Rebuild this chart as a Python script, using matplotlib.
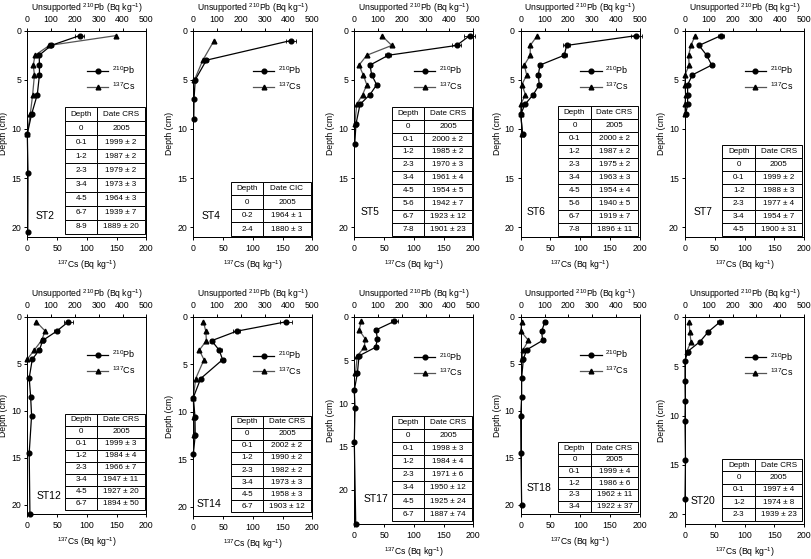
import matplotlib
matplotlib.use("Agg")
import matplotlib.pyplot as plt
from matplotlib.lines import Line2D

plt.rcParams["font.family"] = ["Liberation Sans", "DejaVu Sans"]
plt.rcParams["mathtext.fontset"] = "custom"
plt.rcParams["mathtext.rm"] = "Liberation Sans"
plt.rcParams["mathtext.it"] = "Liberation Sans:italic"
plt.rcParams["mathtext.bf"] = "Liberation Sans:bold"

# ---- data ----
stations = ["ST2", "ST4", "ST5", "ST6", "ST7", "ST12", "ST14", "ST17", "ST18", "ST20"]
depth_max = [21, 21, 21, 21, 21, 21, 21, 24, 21, 21]

# unsupported 210Pb (top axis, Bq/kg)
pb_depth = [
    [0.5, 1.5, 2.5, 3.5, 4.5, 6.5, 8.5, 10.5, 14.5, 20.5],
    [1, 3, 5, 7, 9],
    [0.5, 1.5, 2.5, 3.5, 4.5, 5.5, 6.5, 7.5, 9.5, 11.5],
    [0.5, 1.5, 2.5, 3.5, 4.5, 5.5, 6.5, 7.5, 8.5, 10.5],
    [0.5, 1.5, 2.5, 3.5, 4.5, 5.5, 6.5, 7.5, 8.5],
    [0.5, 1.5, 2.5, 3.5, 4.5, 6.5, 8.5, 10.5, 14.5, 21],
    [0.5, 1.5, 2.5, 3.5, 4.5, 6.5, 8.5, 10.5, 12.5, 14.5],
    [0.5, 1.5, 2.5, 3.5, 4.5, 6.5, 8.5, 10.5, 14.5, 24],
    [0.5, 1.5, 2.5, 3.5, 4.5, 6.5, 8.5, 10.5, 14.5, 20],
    [0.5, 1.5, 2.5, 3.5, 4.5, 6.5, 8.5, 10.5, 14.5, 18.5],
]
pb_values = [
    [220, 100, 50, 51, 51, 42, 18, 0, 3, 2],
    [410, 55, 8, 3, 2],
    [485, 430, 143, 66, 73, 94, 66, 24, 7, 2],
    [486, 193, 183, 81, 74, 78, 53, 18, 0, 8],
    [151, 59, 91, 112, 31, 11, 11, 11, 3],
    [173, 124, 65, 51, 21, 8, 14, 18, 8, 11],
    [391, 182, 77, 109, 123, 31, 0, 7, 8, 0],
    [168, 91, 97, 90, 20, 13, 0, 3, 0, 6],
    [102, 88, 92, 25, 11, 4, 4, 0, 1, 4],
    [147, 98, 63, 11, 0, 0, 1, 0, 2, 0],
]
pb_errors = [
    [18, 8, 5, 5, 5, 5, 3, 2, 3, 2],
    [22, 8, 3, 2, 4],
    [22, 18, 12, 8, 8, 8, 8, 5, 3, 3],
    [22, 15, 10, 8, 8, 8, 8, 5, 3, 5],
    [12, 6, 6, 8, 5, 4, 4, 4, 3],
    [18, 10, 6, 5, 5, 4, 4, 4, 4, 4],
    [25, 15, 8, 10, 10, 6, 3, 4, 4, 3],
    [15, 8, 6, 8, 5, 5, 3, 3, 3, 4],
    [8, 7, 8, 5, 4, 3, 3, 3, 3, 3],
    [12, 8, 6, 4, 2, 2, 2, 2, 2, 2],
]

# 137Cs (bottom axis, Bq/kg)
cs_depth = [
    [0.5, 1.5, 2.5, 3.5, 4.5, 6.5, 8.5, 10.5],
    [1, 3, 5],
    [0.5, 1.5, 2.5, 3.5, 4.5, 5.5, 6.5, 7.5, 9.5],
    [0.5, 1.5, 2.5, 3.5, 4.5, 5.5, 6.5, 7.5, 8.5, 10.5],
    [0.5, 1.5, 2.5, 3.5, 4.5, 5.5, 6.5, 7.5, 8.5],
    [0.5, 1.5, 2.5, 3.5, 4.5],
    [0.5, 1.5, 2.5, 3.5, 4.5, 6.5, 8.5, 10.5, 12.5],
    [0.5, 1.5, 2.5, 3.5, 4.5, 6.5],
    [0.5, 1.5, 2.5, 3.5, 4.5],
    [0.5, 1.5, 2.5, 3.5],
]
cs_values = [
    [149, 37, 13, 10, 12, 9, 5, 0],
    [35, 16, 2],
    [46, 63, 21, 8, 15, 21, 14, 4, 1],
    [28, 16, 16, 6, 10, 2, 8, 0, 0, 3],
    [17, 10, 6, 7, 0, 0, 1, 0, 0],
    [15, 30, 24, 12, 0],
    [17, 21, 22, 10, 18, 4, 0, 1, 2],
    [12, 8, 18, 17, 5, 2],
    [2, 0, 13, 4, 2],
    [7, 8, 10, 3],
]

# dating tables
date_method = ["CRS", "CIC", "CRS", "CRS", "CRS", "CRS", "CRS", "CRS", "CRS", "CRS"]
table_depths = [
    ["0", "0-1", "1-2", "2-3", "3-4", "4-5", "6-7", "8-9"],
    ["0", "0-2", "2-4"],
    ["0", "0-1", "1-2", "2-3", "3-4", "4-5", "5-6", "6-7", "7-8"],
    ["0", "0-1", "1-2", "2-3", "3-4", "4-5", "5-6", "6-7", "7-8"],
    ["0", "0-1", "1-2", "2-3", "3-4", "4-5"],
    ["0", "0-1", "1-2", "2-3", "3-4", "4-5", "6-7"],
    ["0", "0-1", "1-2", "2-3", "3-4", "4-5", "6-7"],
    ["0", "0-1", "1-2", "2-3", "3-4", "4-5", "6-7"],
    ["0", "0-1", "1-2", "2-3", "3-4"],
    ["0", "0-1", "1-2", "2-3"],
]
table_dates = [
    ["2005", "1999 ± 2", "1987 ± 2", "1979 ± 2", "1973 ± 3", "1964 ± 3", "1939 ± 7", "1889 ± 20"],
    ["2005", "1964 ± 1", "1880 ± 3"],
    ["2005", "2000 ± 2", "1985 ± 2", "1970 ± 3", "1961 ± 4", "1954 ± 5", "1942 ± 7", "1923 ± 12", "1901 ± 23"],
    ["2005", "2000 ± 2", "1987 ± 2", "1975 ± 2", "1963 ± 3", "1954 ± 4", "1940 ± 5", "1919 ± 7", "1896 ± 11"],
    ["2005", "1999 ± 2", "1988 ± 3", "1977 ± 4", "1954 ± 7", "1900 ± 31"],
    ["2005", "1999 ± 3", "1984 ± 4", "1966 ± 7", "1947 ± 11", "1927 ± 20", "1894 ± 50"],
    ["2005", "2002 ± 2", "1990 ± 2", "1982 ± 2", "1973 ± 3", "1958 ± 3", "1903 ± 12"],
    ["2005", "1998 ± 3", "1984 ± 4", "1971 ± 6", "1950 ± 12", "1925 ± 24", "1887 ± 74"],
    ["2005", "1999 ± 4", "1986 ± 6", "1962 ± 11", "1922 ± 37"],
    ["2005", "1997 ± 4", "1974 ± 8", "1939 ± 23"],
]

# ---- layout (pixels) ----
W, H = 811, 559
panel_left = [27.3, 193.3, 354.3, 520.7, 685] * 2
panel_width = 119
panel_top = [30.7] * 5 + [317] * 5
panel_bottom = [237] * 5 + [514, 516, 524, 514, 524]
label_pos = [(0.07, 0.1), (0.07, 0.1), (0.05, 0.12), (0.05, 0.12), (0.07, 0.12),
             (0.08, 0.09), (0.03, 0.06), (0.08, 0.12), (0.05, 0.13), (0.05, 0.11)]
table_top = [107, 181.7, 107, 106, 145, 414, 415.7, 415.7, 442.3, 459]
table_bottom = [234, 236, 235.5, 235.5, 236, 509.7, 512.3, 520.7, 512.3, 520.7]

fig = plt.figure(figsize=(W / 100, H / 100), dpi=100)

for i, name in enumerate(stations):
    h_px = panel_bottom[i] - panel_top[i]
    ax = fig.add_axes([panel_left[i] / W, 1 - panel_bottom[i] / H,
                       panel_width / W, h_px / H])
    ax.set_xlim(0, 200)
    ax.set_ylim(depth_max[i], 0)
    ax.set_xticks([0, 50, 100, 150, 200])
    ax.set_yticks([0, 5, 10, 15, 20])
    ax.tick_params(labelsize=6.3, length=2.5, width=0.7, pad=2.5)
    ax.tick_params(axis="y", pad=2)
    ax.set_xlabel(r"$^{137}$Cs (Bq kg$^{-1}$)", fontsize=6.2, labelpad=4)
    ax.set_ylabel("Depth (cm)", fontsize=6.2, labelpad=2)

    axt = ax.twiny()
    axt.set_xlim(0, 500)
    axt.set_xticks([0, 100, 200, 300, 400, 500])
    axt.tick_params(labelsize=6.3, length=2.5, width=0.7, pad=2.5)
    axt.set_xlabel(r"Unsupported $^{210}$Pb (Bq kg$^{-1}$)", fontsize=6.2, labelpad=3)
    for a in (ax, axt):
        for s in a.spines.values():
            s.set_linewidth(0.7)

    ax.plot(cs_values[i], cs_depth[i], color="#555555", marker="^", ms=3.4,
            mfc="black", mec="black", lw=0.9, clip_on=False, zorder=3)
    axt.errorbar(pb_values[i], pb_depth[i], xerr=pb_errors[i], color="black",
                 marker="o", ms=3.4, lw=0.9, elinewidth=0.6, capsize=1.6,
                 capthick=0.6, clip_on=False, zorder=3)

    handles = [Line2D([], [], color="black", marker="o", ms=3.4, lw=0.9),
               Line2D([], [], color="#555555", marker="^", ms=3.4, mfc="black",
                      mec="black", lw=0.9)]
    axt.legend(handles, [r"$^{210}$Pb", r"$^{137}$Cs"], loc="center left",
               bbox_to_anchor=(0.5, 0.77), frameon=False, fontsize=6.5,
               handlelength=2.4, handletextpad=0.4, labelspacing=0.45,
               borderpad=0, borderaxespad=0)

    ax.text(label_pos[i][0], label_pos[i][1], name, transform=ax.transAxes,
            fontsize=7.5, ha="left", va="center")

    rows = [["Depth", "Date " + date_method[i]]]
    rows += [[d, t] for d, t in zip(table_depths[i], table_dates[i])]
    y0 = (panel_bottom[i] - table_bottom[i]) / h_px
    th = (table_bottom[i] - table_top[i]) / h_px
    tbl = axt.table(cellText=rows, cellLoc="center", colWidths=[0.41, 0.59],
                    bbox=[0.315, y0, 0.67, th])
    tbl.auto_set_font_size(False)
    tbl.set_fontsize(5.8)
    for cell in tbl.get_celld().values():
        cell.set_linewidth(0.7)
        cell.set_edgecolor("black")
        cell.set_facecolor("white")
    tbl.set_zorder(5)

fig.savefig("out.png", dpi=100)
